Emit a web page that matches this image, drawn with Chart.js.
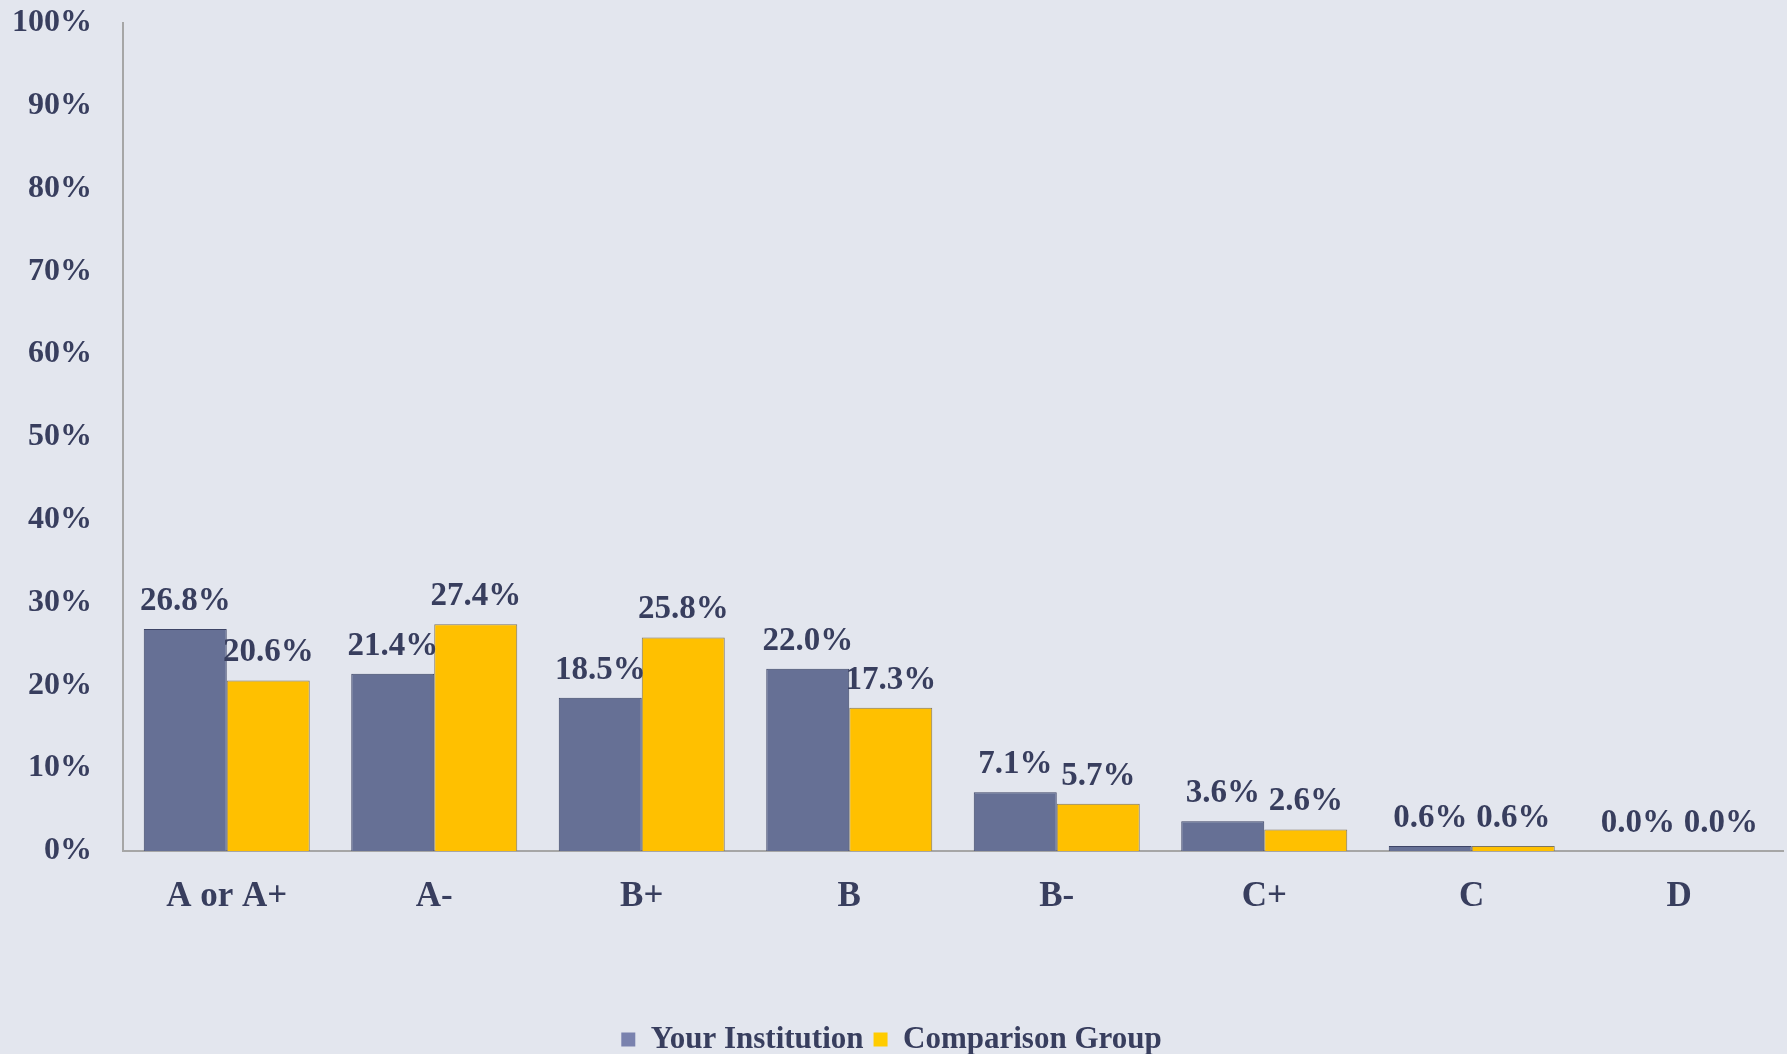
<!DOCTYPE html>
<html>
<head>
<meta charset="utf-8">
<script src="https://cdn.jsdelivr.net/npm/chart.js@4/dist/chart.umd.min.js"></script>
<style>
  html, body { margin: 0; padding: 0; background: #e3e6ee; }
  #wrap { width: 1787px; height: 1054px; }
</style>
</head>
<body>
<div id="wrap"><canvas id="chart"></canvas></div>
<script>
const categories = ['A or A+', 'A-', 'B+', 'B', 'B-', 'C+', 'C', 'D'];
const yourInstitution = [26.8, 21.4, 18.5, 22.0, 7.1, 3.6, 0.6, 0.0];
const comparisonGroup = [20.6, 27.4, 25.8, 17.3, 5.7, 2.6, 0.6, 0.0];
const seriesNames = ['Your Institution', 'Comparison Group'];

const textColor = '#383e5e';
const serif = '"Liberation Serif", "DejaVu Serif", serif';

// etiquetas de valor encima de cada barra
const valueLabels = {
  id: 'valueLabels',
  afterDatasetsDraw(chart) {
    const ctx = chart.ctx;
    ctx.save();
    ctx.font = 'bold 33px ' + serif;
    ctx.fillStyle = textColor;
    ctx.textAlign = 'center';
    ctx.textBaseline = 'alphabetic';
    chart.data.datasets.forEach((ds, i) => {
      chart.getDatasetMeta(i).data.forEach((bar, j) => {
        ctx.fillText(ds.data[j].toFixed(1) + '%', bar.x, bar.y - 19);
      });
    });
    ctx.restore();
  }
};

new Chart(document.getElementById('chart').getContext('2d'), {
  type: 'bar',
  data: {
    labels: categories,
    datasets: [
      {
        label: seriesNames[0],
        data: yourInstitution,
        backgroundColor: '#667095',
        borderColor: '#3d4466',
        borderWidth: 1,
      },
      {
        label: seriesNames[1],
        data: comparisonGroup,
        backgroundColor: '#ffc000',
        borderColor: '#7f7660',
        borderWidth: 1,
      },
    ],
  },
  options: {
    responsive: true,
    maintainAspectRatio: false,
    animation: false,
    layout: { padding: { top: 0, right: 4, left: 0, bottom: -11 } },
    datasets: { bar: { categoryPercentage: 0.8, barPercentage: 1.0 } },
    plugins: {
      tooltip: { enabled: false },
      legend: {
        position: 'bottom',
        labels: {
          color: textColor,
          font: { family: serif, size: 31, weight: 'bold' },
          boxWidth: 14,
          boxHeight: 14,
          padding: 10,
          generateLabels(chart) {
            const cols = ['#7a82ae', '#ffcc00'];
            return chart.data.datasets.map((ds, i) => ({
              text: ds.label,
              fillStyle: cols[i],
              strokeStyle: cols[i],
              lineWidth: 0,
              fontColor: textColor,
              datasetIndex: i,
            }));
          },
        },
      },
    },
    scales: {
      x: {
        grid: { display: false, drawTicks: false },
        border: { display: true, color: '#a6a6a6', width: 2 },
        ticks: {
          color: textColor,
          font: { family: serif, size: 35, weight: 'bold' },
          padding: 25,
        },
        afterFit(scale) { scale.height = 163; },
      },
      y: {
        min: 0,
        max: 100,
        grid: { display: false, drawTicks: false },
        border: { display: true, color: '#a6a6a6', width: 2 },
        ticks: {
          stepSize: 10,
          color: textColor,
          font: { family: serif, size: 32, weight: 'bold' },
          padding: 31,
          callback: (v) => v + '%',
        },
        afterFit(scale) {
          scale.width = 123;
          scale.paddingTop = 23;
          scale.paddingBottom = 20;
        },
      },
    },
  },
  plugins: [valueLabels],
});
</script>
</body>
</html>
